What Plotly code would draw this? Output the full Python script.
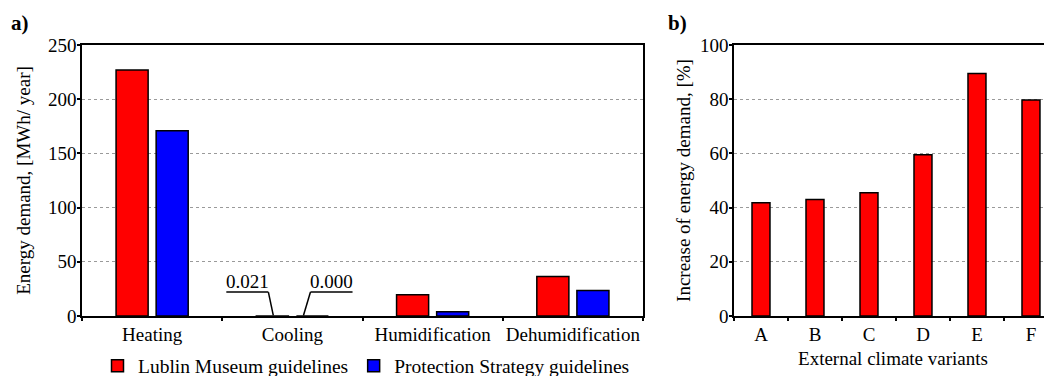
import plotly.graph_objects as go

# ---- data ----
categories = ["Heating", "Cooling", "Humidification", "Dehumidification"]
lublin = [227.0, 0.021, 19.5, 36.5]
protection = [171.0, 0.000, 4.0, 23.5]
cooling_labels = ["0.021", "0.000"]

variants = ["A", "B", "C", "D", "E", "F"]
increase = [41.8, 43.0, 45.5, 59.5, 89.5, 79.7]

# ---- layout helpers ----
OFF = 8                      # page body margin of the browser
W, H = 1052 - OFF, 376 - OFF
TOP, BOT = 45, 316           # plot area top/bottom in screen pixels
FONT = "Liberation Serif"
FS = 19


def px(x):
    # screen pixel x -> paper x
    return (x - OFF) / W


def py(y):
    # screen pixel y -> paper y (paper spans the plot area vertically)
    return (BOT - y) / (BOT - TOP)


fig = go.Figure()
fig.add_trace(go.Bar(
    x=categories, y=lublin, name="Lublin Museum guidelines",
    marker=dict(color="#ff0000", line=dict(color="black", width=1.5)),
    width=0.2286, offset=-0.2571, xaxis="x", yaxis="y"))
fig.add_trace(go.Bar(
    x=categories, y=protection, name="Protection Strategy guidelines",
    marker=dict(color="#0000ff", line=dict(color="black", width=1.5)),
    width=0.2286, offset=0.0286, xaxis="x", yaxis="y"))
fig.add_trace(go.Bar(
    x=variants, y=increase, showlegend=False,
    marker=dict(color="#ff0000", line=dict(color="black", width=1.5)),
    width=0.333, offset=-0.1667, xaxis="x2", yaxis="y2"))

axis_common = dict(showline=True, linecolor="black", linewidth=1.5,
                   tickfont=dict(family=FONT, size=FS, color="black"),
                   ticks="outside", tickcolor="black", tickwidth=1.5)
grid = dict(showgrid=True, gridcolor="#9a9a9a", griddash="dot", gridwidth=1,
            zeroline=False)

fig.update_layout(
    width=W, height=H,
    margin=dict(l=0, r=0, t=TOP - OFF, b=H - (BOT - OFF), autoexpand=False),
    paper_bgcolor="white", plot_bgcolor="white",
    font=dict(family=FONT, size=FS, color="black"),
    barmode="overlay",
    xaxis=dict(domain=[px(82), px(643)], anchor="y", range=[-0.5, 3.5],
               mirror=True, tickson="boundaries", ticklen=3, showgrid=False,
               tickangle=0, **axis_common),
    yaxis=dict(domain=[0, 1], anchor="x", range=[0, 250], dtick=50, mirror=True,
               ticklen=3, ticklabelstandoff=-3,
               title=dict(text="Energy demand, [MWh/ year]",
                          font=dict(family=FONT, size=FS), standoff=12),
               **grid, **axis_common),
    xaxis2=dict(domain=[px(734), 1], anchor="y2", range=[-0.5, 5.389],
                mirror=True, tickson="boundaries", ticklen=3, showgrid=False,
                tickangle=0,
                title=dict(text="External climate variants",
                           font=dict(family=FONT, size=FS), standoff=8),
                **axis_common),
    yaxis2=dict(domain=[0, 1], anchor="x2", range=[0, 100], dtick=20,
                mirror=False, ticklen=3, ticklabelstandoff=-3,
                title=dict(text="Increase of energy demand, [%]",
                           font=dict(family=FONT, size=FS), standoff=4),
                **grid, **axis_common),
    legend=dict(orientation="h", x=px(97), y=py(366), xanchor="left",
                yanchor="middle", bgcolor="rgba(0,0,0,0)", itemwidth=31,
                font=dict(family=FONT, size=19.5)),
    showlegend=True,
)

# panel labels
for lab, x in (("a)", 9), ("b)", 666)):
    fig.add_annotation(text="<b>" + lab + "</b>", xref="paper", yref="paper",
                       x=px(x), y=py(23), xanchor="left", yanchor="middle",
                       showarrow=False,
                       font=dict(family=FONT, size=21, color="black"))

# cooling value call-outs (leader lines)
ul_y = 22.1
callouts = [
    # (label, underline x0, underline x1, leader end x, leader start x)
    (cooling_labels[0], 0.529, 0.829, 0.864, 0.829),
    (cooling_labels[1], 1.129, 1.429, 1.079, 1.129),
]
for lab, x0, x1, xe, xs in callouts:
    fig.add_shape(type="line", xref="x", yref="y", x0=x0, x1=x1, y0=ul_y, y1=ul_y,
                  line=dict(color="black", width=1.5))
    fig.add_shape(type="line", xref="x", yref="y", x0=xs, x1=xe, y0=ul_y, y1=0.5,
                  line=dict(color="black", width=1.5))
    fig.add_annotation(text=lab, xref="x", yref="y", x=(x0 + x1) / 2, y=ul_y,
                       yanchor="bottom", showarrow=False, yshift=-2,
                       font=dict(family=FONT, size=FS, color="black"))

fig.write_html("out.html")
